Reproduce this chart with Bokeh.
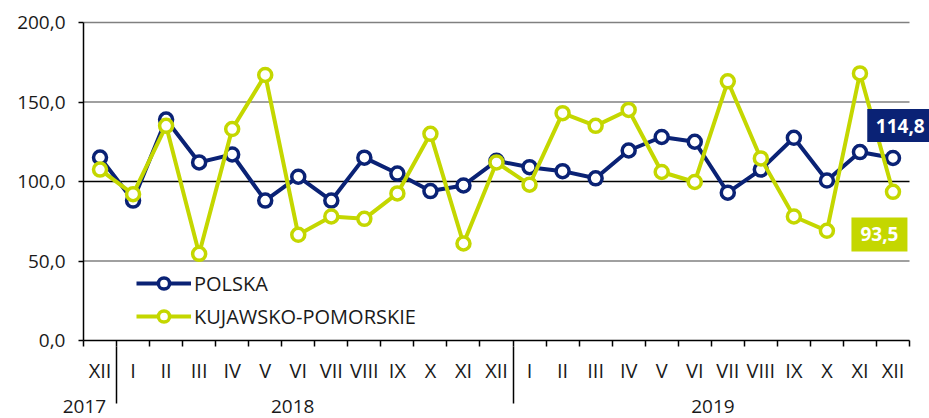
from bokeh.plotting import figure
from bokeh.models import Range1d, FixedTicker, LinearAxis
from bokeh.core.properties import value
from bokeh.embed import file_html
from bokeh.resources import INLINE

categories = ["XII", "I", "II", "III", "IV", "V", "VI", "VII", "VIII", "IX", "X", "XI", "XII",
              "I", "II", "III", "IV", "V", "VI", "VII", "VIII", "IX", "X", "XI", "XII"]
years = ["2017", "2018", "2019"]
year_label_x = [0.03, 6.33, 19.05]
year_separators = [1, 13]
polska = [115.1, 88.0, 139.0, 112.0, 117.0, 88.0, 103.0, 88.0, 115.0, 105.0, 94.0, 97.5, 113.0,
          109.0, 106.5, 102.0, 119.5, 128.0, 125.0, 93.0, 107.5, 127.5, 100.6, 118.5, 114.8]
kujawsko = [107.5, 92.0, 135.0, 54.5, 133.0, 167.0, 66.5, 78.0, 76.5, 92.5, 130.0, 61.0, 112.0,
            98.0, 143.0, 135.0, 145.0, 106.0, 99.7, 163.0, 114.5, 78.0, 69.0, 168.0, 93.5]
y_ticks = [0, 50, 100, 150, 200]

NAVY = "#0a2275"
LIME = "#c4d700"
FONT = "Open Sans"
TXT = "#1a1a1a"

n = len(categories)
xs = [i + 0.5 for i in range(n)]
bnds = list(range(n + 1))

p = figure(width=929, height=418, output_backend="svg", toolbar_location=None,
           x_axis_type=None, x_range=Range1d(0, 25.605), y_range=Range1d(0, 213.84),
           min_border_left=83, min_border_right=0, min_border_top=0, min_border_bottom=78)
p.outline_line_color = None
p.ygrid.visible = False
p.background_fill_color = "white"

# y axis
ax = p.yaxis[0]
ax.ticker = FixedTicker(ticks=y_ticks)
ax.bounds = (min(y_ticks), max(y_ticks))
ax.major_label_overrides = {t: f"{t:.1f}".replace(".", ",") for t in y_ticks}
ax.major_label_text_font = FONT
ax.major_label_text_font_size = "19px"
ax.major_label_text_color = TXT
ax.major_label_standoff = 13
ax.major_tick_in = 0
ax.major_tick_out = 5
ax.minor_tick_line_color = None
ax.axis_line_color = "black"
ax.axis_line_width = 1.5
ax.major_tick_line_color = "black"
ax.major_tick_line_width = 1.5

# x axis: month labels at centres, ticks at boundaries
xa = LinearAxis(ticker=FixedTicker(ticks=xs, minor_ticks=bnds), bounds=(0, n))
xa.major_label_overrides = {x: c for x, c in zip(xs, categories)}
xa.major_label_text_font = FONT
xa.major_label_text_font_size = "20px"
xa.major_label_text_color = TXT
xa.major_label_standoff = 10
xa.major_tick_in = 0
xa.major_tick_out = 0
xa.major_tick_line_color = None
xa.minor_tick_in = 0
xa.minor_tick_out = 6
xa.minor_tick_line_color = "black"
xa.minor_tick_line_width = 1.5
xa.axis_line_color = "black"
xa.axis_line_width = 1.5
p.add_layout(xa, "below")

# year axis with separators
ya = LinearAxis(ticker=FixedTicker(ticks=year_label_x, minor_ticks=year_separators))
ya.major_label_overrides = {x: y for x, y in zip(year_label_x, years)}
ya.major_label_text_font = FONT
ya.major_label_text_font_size = "19px"
ya.major_label_text_color = TXT
ya.major_label_standoff = -4
ya.major_tick_in = 0
ya.major_tick_out = 0
ya.major_tick_line_color = None
ya.minor_tick_in = 40
ya.minor_tick_out = 17
ya.minor_tick_line_color = "black"
ya.minor_tick_line_width = 1.5
ya.axis_line_color = None
p.add_layout(ya, "below")

# gridlines
grid_y = [t for t in y_ticks if t > 0]
grid_col = ["black" if t == 100 else "#808080" for t in grid_y]
p.segment(x0=[0] * len(grid_y), x1=[n] * len(grid_y), y0=grid_y, y1=grid_y,
          line_color=grid_col, line_width=1.5)

# series
p.line(xs, polska, line_color=NAVY, line_width=4, legend_label="POLSKA")
p.scatter(xs, polska, marker="circle", size=13, fill_color="white", line_color=NAVY,
          line_width=3.5, legend_label="POLSKA")
p.line(xs, kujawsko, line_color=LIME, line_width=4, legend_label="KUJAWSKO-POMORSKIE")
p.scatter(xs, kujawsko, marker="circle", size=13, fill_color="white", line_color=LIME,
          line_width=3.5, legend_label="KUJAWSKO-POMORSKIE")

# end value boxes
last_x = xs[-1]
def fmt(v):
    return f"{v:.1f}".replace(".", ",")
p.rect(x=[last_x + 0.22], y=[polska[-1] + 20.4], width=66, height=33,
       width_units="screen", height_units="screen", fill_color=NAVY, line_color=None)
p.text(x=[last_x + 0.22], y=[polska[-1] + 20.4], text=[fmt(polska[-1])], text_font=value(FONT),
       text_font_size="19px", text_font_style="bold", text_color="white",
       text_align="center", text_baseline="middle")
p.rect(x=[last_x - 0.41], y=[kujawsko[-1] - 26.8], width=56, height=34,
       width_units="screen", height_units="screen", fill_color=LIME, line_color=None)
p.text(x=[last_x - 0.41], y=[kujawsko[-1] - 26.8], text=[fmt(kujawsko[-1])], text_font=value(FONT),
       text_font_size="19px", text_font_style="bold", text_color="white",
       text_align="center", text_baseline="middle")

lg = p.legend[0]
lg.location = (53, 10)
lg.border_line_color = None
lg.background_fill_alpha = 0
lg.label_text_font = FONT
lg.label_text_font_size = "20px"
lg.label_text_color = TXT
lg.glyph_width = 55
lg.glyph_height = 28
lg.label_height = 20
lg.label_standoff = 3
lg.spacing = 5
lg.padding = 5
lg.margin = 0

open("out.html", "w").write(file_html(p, INLINE))
